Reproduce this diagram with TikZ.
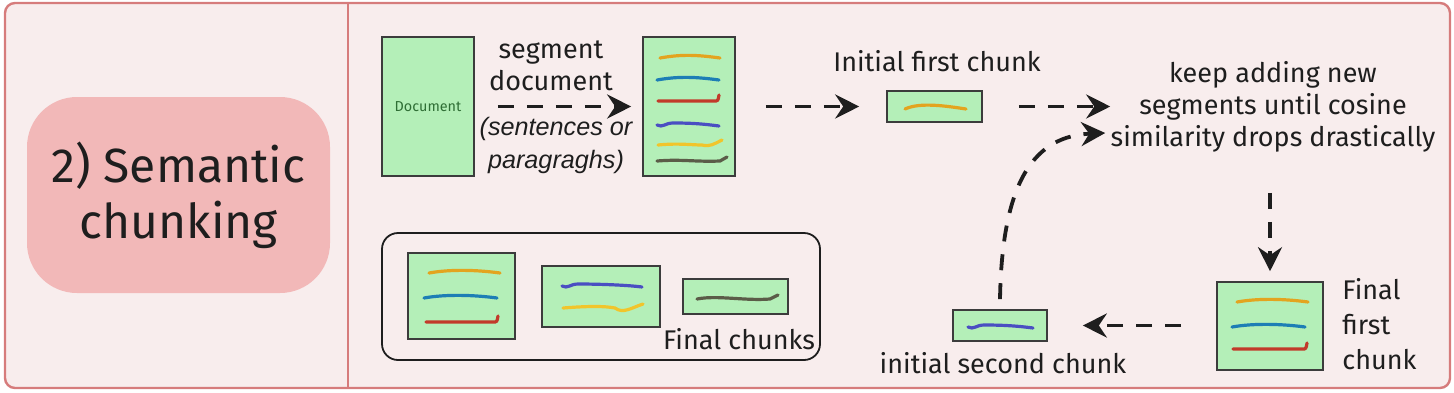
\documentclass[tikz,border=0pt]{standalone}
\usepackage{fontspec}
\setmainfont{Fira Sans}
\newfontfamily\notefont{Liberation Sans}
\usetikzlibrary{arrows.meta,positioning}
\definecolor{panelbg}{HTML}{F8EDED}
\definecolor{panelline}{HTML}{D67C7C}
\definecolor{pillfill}{HTML}{F2B8B8}
\definecolor{chunkfill}{HTML}{B4EFB8}
\definecolor{chunkline}{HTML}{3C3C3C}
\definecolor{inkc}{HTML}{1E1E1E}
\definecolor{doctext}{HTML}{2F6E35}
\definecolor{segorange}{HTML}{E3A41F}
\definecolor{segblue}{HTML}{1D7EB5}
\definecolor{segred}{HTML}{C23A2A}
\definecolor{segindigo}{HTML}{4A4EC2}
\definecolor{segyellow}{HTML}{F1C52B}
\definecolor{segdark}{HTML}{5B5C48}
% hand drawn stroke: colour, x from, x to, y
\newcommand{\stroke}[4]{\draw[seg,#1] (#2,#4) .. controls +(22,-4) and +(-22,-3) .. (#3,#4);}
\newcommand{\hook}[4]{\draw[seg,#1] (#2,#4) -- ({#3-5},#4) .. controls ({#3-1},#4) .. (#3,{#4-6});}
\newcommand{\wave}[4]{\draw[seg,#1] (#2,#4) .. controls +(6,3) and +(-8,0) .. ({#2+16},{#4-2}) .. controls +(20,0) and +(-15,-2) .. (#3,{#4+1});}

\begin{document}
\begin{tikzpicture}[x=0.5pt,y=-0.5pt,
  chunk/.style={draw=chunkline,fill=chunkfill,line width=0.8pt,inner sep=0pt},
  lbl/.style={text=inkc,align=center,inner sep=0pt,font=\fontsize{13.5}{16}\selectfont},
  flow/.style={draw=inkc,line width=1.9pt,dash pattern=on 8pt off 6.5pt,
    -{Stealth[length=12pt,width=12pt,inset=4pt]}},
  seg/.style={line width=1.6pt,line cap=round}]
\useasboundingbox (0,0) rectangle (1454,392);
% panel
\draw[panelline,fill=panelbg,line width=1.2pt,rounded corners=5pt] (5,3) rectangle (1450,388);
\draw[panelline,line width=1.2pt] (348,3) -- (348,388);
\node[fill=pillfill,rounded corners=25pt,minimum width=151.5pt,minimum height=98pt,
  align=center,text=inkc,font=\fontsize{24}{28}\selectfont] (title) at (178.5,195) {2) Semantic\\chunking};

% top row
\node[chunk,minimum width=46pt,minimum height=69.5pt,text=doctext,
  font=\fontsize{7.2}{8}\selectfont] (doc) at (428,106.5) {Document};
\node[chunk,minimum width=46pt,minimum height=69.5pt] (segs) at (689,106.5) {};
\node[chunk,minimum width=47.5pt,minimum height=15.5pt] (first) at (934.5,106.5) {};
\node[lbl] (segtxt) at (551,66) {segment\\document};
\node[lbl,font=\notefont\itshape\fontsize{12.6}{16.5}\selectfont] (segnote) at (556,145) {(sentences or\\paragraghs)};
\node[lbl] (firsttxt) at (937,61) {Initial first chunk};
\node[lbl] (keep) at (1273,107) {keep adding new\\segments until cosine\\similarity drops drastically};

% bottom row
\node[chunk,minimum width=53pt,minimum height=44pt] (fin) at (1270,326) {};
\node[lbl,align=left,anchor=west,font=\fontsize{13.5}{17.5}\selectfont] (fintxt) at (1342,324) {Final\\first\\chunk};
\node[chunk,minimum width=47pt,minimum height=15.5pt] (second) at (1000,325.5) {};
\node[lbl] (secondtxt) at (1003,363) {initial second chunk};

% final chunks
\node[draw=inkc,line width=0.9pt,rounded corners=8pt,minimum width=219pt,minimum height=63.5pt] (group) at (601,296.5) {};
\node[chunk,minimum width=53.5pt,minimum height=43pt] (c1) at (461.5,296) {};
\node[chunk,minimum width=59pt,minimum height=30.5pt] (c2) at (601,296.5) {};
\node[chunk,minimum width=52.5pt,minimum height=17.5pt] (c3) at (735.5,296.5) {};
\node[lbl] (grouptxt) at (739,339) {Final chunks};

% strokes
\stroke{segorange}{660}{720}{58}
\stroke{segblue}{657}{719}{80}
\hook{segred}{658}{719}{101}
\wave{segindigo}{657}{719}{125}
\draw[seg,segyellow] (658,145) .. controls +(20,-2) and +(-10,0) .. (702,145) .. controls +(8,2) and +(-8,4) .. (722,140);
\draw[seg,segdark] (657,161) .. controls +(25,-2) and +(-25,1) .. (720,161) -- (727,157);
\draw[seg,segorange] (905,109) .. controls +(15,-7) and +(-20,-3) .. (966,109);
\stroke{segorange}{429}{500}{273}
\stroke{segblue}{424}{497}{298}
\hook{segred}{426}{498}{322}
\wave{segindigo}{562}{642}{286}
\draw[seg,segyellow] (563,308) .. controls +(25,-2) and +(-10,-2) .. (615,308) .. controls +(8,6) and +(-12,4) .. (643,304);
\draw[seg,segdark] (697,299) .. controls +(20,-4) and +(-25,2) .. (770,299) -- (778,295);
\stroke{segorange}{1237}{1308}{302}
\stroke{segblue}{1232}{1305}{327}
\hook{segred}{1233}{1307}{349}
\wave{segindigo}{968}{1033}{327}

% arrows
\draw[flow,shorten <=11.5pt,shorten >=5.5pt] (doc) -- (segs);
\draw[flow,shorten <=15pt,shorten >=13.5pt] (segs) -- (first);
\draw[flow,shorten <=18pt] (first) -- (first -| keep.west);
\draw[flow,shorten <=20pt,shorten >=5pt] (fin.north |- keep.south) -- (fin.north);
\draw[flow,shorten <=17.5pt,shorten >=17.5pt] (fin.west |- second) -- (second.east);
\draw[flow] ([yshift=5pt]second.north) .. controls +(2,-120) and +(-70,3) .. ([shift={(-2.5pt,-13pt)}]keep.west);
\end{tikzpicture}
\end{document}
